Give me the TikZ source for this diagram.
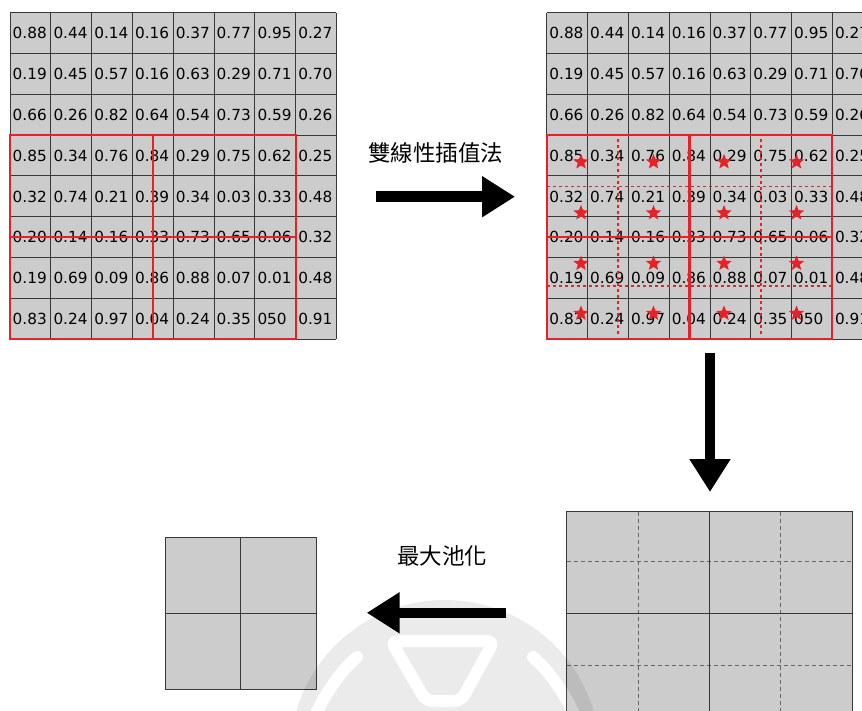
\documentclass[tikz,border=0pt]{standalone}
\usepackage{fontspec}
\usetikzlibrary{arrows.meta,shapes.geometric}
\newfontfamily\numfont{DejaVu Sans}
\newfontfamily\cjkfont{Noto Sans CJK TC}
\definecolor{cellgray}{HTML}{CCCCCC}
\definecolor{gridc}{HTML}{383838}
\definecolor{redc}{HTML}{E52228}
\definecolor{dashc}{HTML}{666666}
\newcommand\drawnumgrid[2]{%
  \fill[cellgray] (#1,12.7) rectangle ++(326.4,326.4);
  \foreach \kk in {0,...,8} {
    \draw[gridline] (#1+\kk*40.8,12.7) -- ++(0,326.4);
    \draw[gridline] (#1,12.7+\kk*40.8) -- ++(326.4,0);
  }
  \foreach \rowlist [count=\ri from 0] in {%
    {0.88,0.44,0.14,0.16,0.37,0.77,0.95,0.27},
    {0.19,0.45,0.57,0.16,0.63,0.29,0.71,0.70},
    {0.66,0.26,0.82,0.64,0.54,0.73,0.59,0.26},
    {0.85,0.34,0.76,0.84,0.29,0.75,0.62,0.25},
    {0.32,0.74,0.21,0.39,0.34,0.03,0.33,0.48},
    {0.20,0.14,0.16,0.33,0.73,0.65,0.06,0.32},
    {0.19,0.69,0.09,0.86,0.88,0.07,0.01,0.48},
    {0.83,0.24,0.97,0.04,0.24,0.35,050,0.91}} {
    \foreach \vv [count=\ci from 0] in \rowlist {
      \node[cellnum] (#2-\ri-\ci) at (#1+\ci*40.8+2.5, 12.7+\ri*40.8+20.6) {\vv};
    }
  }
}
\begin{document}
\begin{tikzpicture}[x=1pt,y=-1pt,
  cellnum/.style={font=\numfont\fontsize{15.3}{18}\selectfont, anchor=west, inner sep=0pt},
  gridline/.style={draw=gridc, line width=0.8pt},
  redbox/.style={draw=redc, line width=1.8pt},
  reddot/.style={draw=redc, line width=1.7pt, dash pattern=on 3pt off 3pt},
  redstar/.style={star, star points=5, star point ratio=2.3, fill=redc, draw=none, inner sep=0pt, minimum size=16pt},
  dashgrid/.style={draw=dashc, line width=0.9pt, dash pattern=on 4pt off 3pt},
  plaingrid/.style={draw=gridc, line width=0.9pt},
  bigarrow/.style={line width=10.5pt, -{Triangle[length=33pt,width=39pt]}},
  cjklabel/.style={font=\cjkfont\fontsize{22.5}{26}\selectfont, inner sep=0pt}
]
\useasboundingbox (0,0) rectangle (862,711);
\clip (0,0) rectangle (862,711);

% ---------- left number grid ----------
\drawnumgrid{10}{L}
\draw[redbox] (10,135.1) rectangle (152.8,339.1);
\draw[redbox] (152.8,135.1) rectangle (295.6,339.1);
\draw[redbox] (10,237.1) -- (295.6,237.1);

% ---------- right number grid ----------
\drawnumgrid{546.7}{R}
\draw[redbox] (546.7,135.1) rectangle (688.5,339.1);
\draw[redbox] (690.2,135.1) rectangle (832.3,339.1);
\draw[redbox] (546.7,237.1) -- (832.3,237.1);
\draw[reddot] (618.1,139) -- (618.1,336);
\draw[reddot] (760.9,139) -- (760.9,336);
\draw[reddot] (547,186.5) -- (831,186.5);
\draw[reddot] (547,286) -- (831,286);
\foreach \sx [count=\si] in {581,653.5,724,796.5} {
  \foreach \sy [count=\sj] in {162,213,263.5,313.5} {
    \node[redstar] (st-\si-\sj) at (\sx,\sy) {};
  }
}

% ---------- bottom right grid ----------
\fill[cellgray] (566.7,511.7) rectangle (852.3,716);
\draw[dashgrid] (638.1,511.7) -- (638.1,716);
\draw[dashgrid] (780.9,511.7) -- (780.9,716);
\draw[dashgrid] (566.7,561.7) -- (852.3,561.7);
\draw[dashgrid] (566.7,665) -- (852.3,665);
\draw[plaingrid] (709.5,511.7) -- (709.5,716);
\draw[plaingrid] (566.7,613.3) -- (852.3,613.3);
\draw[plaingrid] (566.7,716) -- (566.7,511.7) -- (852.3,511.7) -- (852.3,716);

% ---------- bottom left grid ----------
\fill[cellgray] (165,537.3) rectangle (316,689);
\draw[plaingrid] (240.5,537.3) -- (240.5,689);
\draw[plaingrid] (165,613.2) -- (316,613.2);
\draw[plaingrid] (165,537.3) rectangle (316,689);

% ---------- arrows ----------
\coordinate (a1s) at (376,196.7);
\coordinate (a1e) at (515,196.7);
\draw[bigarrow] (a1s) -- (a1e);
\coordinate (a2s) at (710,353);
\coordinate (a2e) at (710,492);
\draw[bigarrow] (a2s) -- (a2e);
\coordinate (a3s) at (506,612.8);
\coordinate (a3e) at (366.7,612.8);
\draw[bigarrow] (a3s) -- (a3e);

% ---------- labels ----------
\node[cjklabel] (lbl1) at (435.7,153) {雙線性插值法};
\node[cjklabel] (lbl2) at (442,556) {最大池化};

% ---------- faint watermark ----------
\begin{scope}[transparency group, opacity=0.08]
  \fill[black] (445,755) circle[radius=155];
  \draw[white, line width=12pt, line cap=round] (314,718) .. controls (326,692) and (340,672) .. (357,657);
  \draw[white, line width=12pt, line cap=round] (576,718) .. controls (564,692) and (550,672) .. (533,657);
  \draw[white, line width=12pt, line join=round, rounded corners=7pt] (391,641) -- (494,641) -- (461,701) -- (426,701) -- cycle;
\end{scope}
\end{tikzpicture}
\end{document}
